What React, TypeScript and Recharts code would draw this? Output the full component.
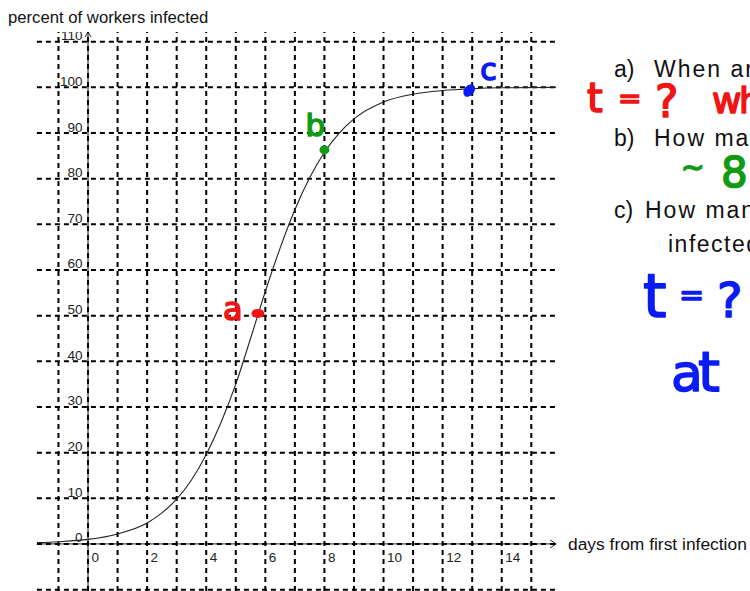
import React from 'react'
import { ComposedChart, Line, Scatter, XAxis, YAxis, ReferenceLine } from 'recharts'

// logistic curve (days -> percent infected)
const curveDays = [-1.73, -1, 0, 1, 2, 2.5, 3, 3.5, 4, 4.5, 5, 5.5, 6, 6.5, 7, 7.5, 8, 8.5, 9, 10, 11, 12, 13, 14, 15.84]
const curvePercent = [0.3, 0.5, 1.0, 2.2, 4.6, 6.8, 9.8, 14, 19.6, 26.6, 35, 45, 55.3, 64.8, 73.2, 80.2, 85.8, 90, 93.1, 96.8, 98.5, 99.3, 99.7, 99.9, 100]

const xTickDays = [0, 2, 4, 6, 8, 10, 12, 14]
const yTickPercent = [0, 10, 20, 30, 40, 50, 60, 70, 80, 90, 100, 110]
const gridDays = [-1, 0, 1, 2, 3, 4, 5, 6, 7, 8, 9, 10, 11, 12, 13, 14, 15]
const gridPercent = [-10, 0, 10, 20, 30, 40, 50, 60, 70, 80, 90, 100, 110]

// hand-drawn marks a, b, c on the curve
const markLabels = ['a', 'b', 'c']
const markDays = [5.75, 8.0, 12.9]
const markPercent = [50.5, 86.3, 99.3]

const RED = '#f01414'
const GREEN = '#139a13'
const BLUE = '#0a1cf5'
const markColor: Record<string, string> = { a: RED, b: GREEN, c: BLUE }

const curveData = curveDays.map((x, i) => ({ x, y: curvePercent[i] }))
const xTickData = xTickDays.map(x => ({ x, y: 0 }))
const yTickData = yTickPercent.map(y => ({ x: 0, y }))
const markData = markDays.map((x, i) => ({ x, y: markPercent[i], label: markLabels[i] }))

const tickFont = 'Liberation Sans, Arial, sans-serif'
const inkFont = 'DejaVu Sans, sans-serif'

const XTick = (p: any) => (
  <text x={p.cx + 3.5} y={p.cy + 18} fontSize={13.5} fontFamily={tickFont} fill="#222">{p.payload.x}</text>
)

const YTick = (p: any) => (
  <text x={p.cx - 5.5} y={p.cy - 1.5} fontSize={13.5} fontFamily={tickFont} fill="#222"
    textAnchor="end" clipPath="url(#topClip)">{p.payload.y}</text>
)

const Mark = (p: any) => {
  const c = markColor[p.payload.label]
  const ink = { fill: c, stroke: c, strokeWidth: 1.6, strokeLinejoin: 'round' as const, fontFamily: inkFont }
  if (p.payload.label === 'a') return (
    <g>
      <ellipse cx={p.cx} cy={p.cy} rx={6.5} ry={4.5} fill={c} />
      <text x={p.cx - 35} y={p.cy + 7} fontSize={32} {...ink}>a</text>
    </g>
  )
  if (p.payload.label === 'b') return (
    <g>
      <ellipse cx={p.cx} cy={p.cy} rx={5} ry={4.5} fill={c} />
      <text x={p.cx - 19} y={p.cy - 14} fontSize={31} {...ink}>b</text>
    </g>
  )
  return (
    <g>
      <ellipse cx={p.cx} cy={p.cy} rx={5} ry={7} fill={c} transform={`rotate(40 ${p.cx} ${p.cy})`} />
      <text x={p.cx + 11} y={p.cy - 11} fontSize={30} {...ink}>c</text>
    </g>
  )
}

const YAxisLine = (p: any) => {
  const top = Math.min(p.y1, p.y2)
  const bot = Math.max(p.y1, p.y2)
  return (
    <g stroke="#555" fill="none" strokeWidth={1.4}>
      <line x1={p.x1} y1={bot} x2={p.x1} y2={top} />
      <polyline points={`${p.x1 - 3},${top + 5} ${p.x1},${top} ${p.x1 + 3},${top + 5}`} stroke="#222" strokeWidth={1} />
    </g>
  )
}

const XAxisLine = (p: any) => {
  const left = Math.min(p.x1, p.x2)
  const right = Math.max(p.x1, p.x2)
  return (
    <g stroke="#555" fill="none" strokeWidth={1.2}>
      <line x1={left} y1={p.y1} x2={right} y2={p.y1} />
      <polyline points={`${right - 6},${p.y1 - 4} ${right},${p.y1} ${right - 6},${p.y1 + 4}`} stroke="#222" strokeWidth={1} />
    </g>
  )
}

function Ink({ x, y, size, color, children }: { x: number, y: number, size: number, color: string, children: string }) {
  return (
    <text x={x} y={y} fontSize={size} fontFamily={inkFont} fill={color} stroke={color}
      strokeWidth={1.6} strokeLinejoin="round">{children}</text>
  )
}

const qStyle = { fontFamily: tickFont, fontSize: 23, fill: '#111' }

export default function App() {
  return (
    <div style={{ position: 'absolute', left: 0, top: 0, width: 750, height: 591, overflow: 'hidden', background: '#fff' }}>
      <svg width={0} height={0} style={{ position: 'absolute' }}>
        <defs>
          <clipPath id="topClip" clipPathUnits="userSpaceOnUse">
            <rect x={0} y={31.7} width={750} height={600} />
          </clipPath>
        </defs>
      </svg>
      <div style={{ position: 'absolute', left: 0, top: 0 }}>
        <ComposedChart width={750} height={591} margin={{ top: 32.1, right: 193.9, bottom: 0, left: 36.9 }}>
          <XAxis type="number" dataKey="x" domain={[-1.73, 15.84]} hide allowDataOverflow />
          <YAxis type="number" dataKey="y" domain={[-10.3, 112.1]} hide allowDataOverflow />
          <ReferenceLine x={0} shape={YAxisLine} />
          <ReferenceLine y={0} shape={XAxisLine} />
          {gridPercent.map(v => (
            <ReferenceLine key={'h' + v} y={v} stroke="#000" strokeWidth={2} strokeDasharray="5 4" />
          ))}
          {gridDays.map(v => (
            <ReferenceLine key={'v' + v} x={v} stroke="#000" strokeWidth={2} strokeDasharray="5 4" />
          ))}
          <Line data={curveData} dataKey="y" type="monotone" stroke="#222" strokeWidth={1.1}
            dot={false} activeDot={false} isAnimationActive={false} />
          <Scatter data={xTickData} shape={XTick} isAnimationActive={false} />
          <Scatter data={yTickData} shape={YTick} isAnimationActive={false} />
          <Scatter data={markData} shape={Mark} isAnimationActive={false} />
        </ComposedChart>
      </div>
      <svg width={750} height={591} style={{ position: 'absolute', left: 0, top: 0, pointerEvents: 'none' }}>
        <text x={8} y={22.5} fontFamily={tickFont} fontSize={16.7} fill="#111">percent of workers infected</text>
        <text x={568} y={550} fontFamily={tickFont} fontSize={17.4} fill="#111">days from first infection</text>

        <text x={614} y={77.3} {...qStyle}>a)</text>
        <text x={654} y={77.3} {...qStyle} letterSpacing={2}>When are</text>
        <text x={614} y={146} {...qStyle}>b)</text>
        <text x={654} y={146} {...qStyle} letterSpacing={2}>How many</text>
        <text x={614} y={218.3} {...qStyle}>c)</text>
        <text x={645} y={218.3} {...qStyle} letterSpacing={2}>How many</text>
        <text x={668} y={251.7} {...qStyle} letterSpacing={1.5}>infected</text>

        <Ink x={587} y={112} size={40} color={RED}>t</Ink>
        <Ink x={618} y={108} size={28} color={RED}>=</Ink>
        <Ink x={655} y={117} size={44} color={RED}>?</Ink>
        <Ink x={712} y={113} size={36} color={RED}>w</Ink>
        <Ink x={739} y={113} size={36} color={RED}>h</Ink>

        <Ink x={681} y={177} size={28} color={GREEN}>~</Ink>
        <Ink x={721} y={187} size={42} color={GREEN}>8</Ink>

        <Ink x={643} y={317} size={60} color={BLUE}>t</Ink>
        <Ink x={679} y={305} size={30} color={BLUE}>=</Ink>
        <Ink x={717} y={317} size={48} color={BLUE}>?</Ink>
        <Ink x={671} y={391} size={52} color={BLUE}>a</Ink>
        <Ink x={698} y={391} size={56} color={BLUE}>t</Ink>
      </svg>
    </div>
  )
}
